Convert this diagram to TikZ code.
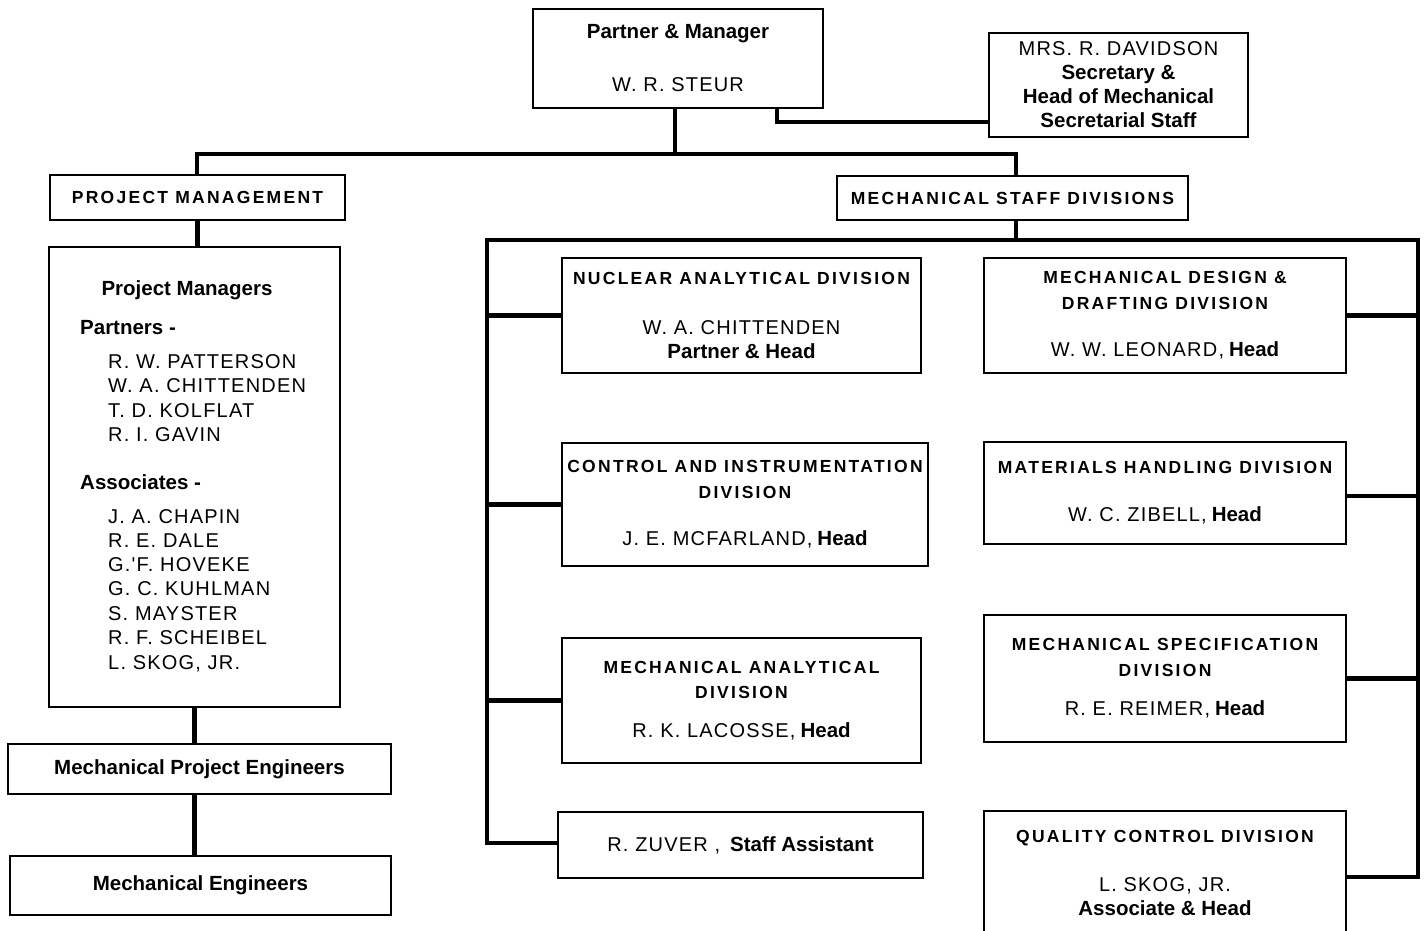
\documentclass[tikz,border=0pt]{standalone}
\usepackage{fontspec}
\setmainfont{Liberation Sans}
\newfontfamily\nmf[LetterSpace=6]{Liberation Sans}
\newfontfamily\hdf[LetterSpace=13]{Liberation Sans}
\newcommand\hd[1]{{\hdf\bfseries\fontsize{17.5}{24}\selectfont #1}}
\newcommand\cb[1]{{\bfseries\fontsize{20.5}{24}\selectfont #1}}
\newcommand\nm[1]{{\nmf\fontsize{20}{24}\selectfont #1}}
\begin{document}
\begin{tikzpicture}[x=1pt,y=-1pt,
  box/.style={draw, line width=1.6pt, inner sep=0pt, align=center, font=\fontsize{18}{24}\selectfont},
  conn/.style={line width=4.5pt, line join=miter},
  lst/.style={inner sep=0pt, anchor=base west},
]
\fill[white] (0,0) rectangle (1426,930);
\useasboundingbox (0,0) rectangle (1426,930);

% top level
\node[box, minimum width=290pt, minimum height=99pt] (top) at (678,58.5)
  {\cb{Partner \& Manager}\\[29pt]\nm{W. R. STEUR}};
\node[box, minimum width=259pt, minimum height=104pt] (sec) at (1118.5,85)
  {\nm{MRS. R. DAVIDSON}\\\cb{Secretary \&}\\\cb{Head of Mechanical}\\\cb{Secretarial Staff}};
\node[box, minimum width=295pt, minimum height=45pt] (pm) at (197.5,197.5)
  {\hd{PROJECT MANAGEMENT}};
\node[box, minimum width=351pt, minimum height=44pt] (msd) at (1012.5,198)
  {\hd{MECHANICAL STAFF DIVISIONS}};

% project management column
\node[box, minimum width=291pt, minimum height=460pt] (pml) at (194.5,477) {};
\node[inner sep=0pt, anchor=base] (pmh) at (187,295.5) {\cb{Project Managers}};
\node[lst] (pth) at (80,334.5) {\cb{Partners -}};
\node[lst] (p1) at (108,368) {\nm{R. W. PATTERSON}};
\node[lst] (p2) at (108,392) {\nm{W. A. CHITTENDEN}};
\node[lst] (p3) at (108,417) {\nm{T. D. KOLFLAT}};
\node[lst] (p4) at (108,441) {\nm{R. I. GAVIN}};
\node[lst] (ash) at (80,489.5) {\cb{Associates -}};
\node[lst] (a1) at (108,523) {\nm{J. A. CHAPIN}};
\node[lst] (a2) at (108,547) {\nm{R. E. DALE}};
\node[lst] (a3) at (108,571) {\nm{G.'F. HOVEKE}};
\node[lst] (a4) at (108,595) {\nm{G. C. KUHLMAN}};
\node[lst] (a5) at (108,620) {\nm{S. MAYSTER}};
\node[lst] (a6) at (108,644) {\nm{R. F. SCHEIBEL}};
\node[lst] (a7) at (108,669) {\nm{L. SKOG, JR.}};

\node[box, minimum width=383pt, minimum height=50pt] (mpe) at (199.5,769)
  {\cb{Mechanical Project Engineers}};
\node[box, minimum width=381pt, minimum height=59pt] (me) at (200.5,885.5)
  {\cb{Mechanical Engineers}};

% left divisions
\node[box, minimum width=359pt, minimum height=115pt] (nuc) at (741.5,315.5)
  {\hd{NUCLEAR ANALYTICAL DIVISION}\\[26pt]\nm{W. A. CHITTENDEN}\\\cb{Partner \& Head}};
\node[box, minimum width=366pt, minimum height=123pt] (ctl) at (745,504.5)
  {\hd{CONTROL AND INSTRUMENTATION}\\[2pt]\hd{DIVISION}\\[23pt]\nm{J. E. MCFARLAND,} \cb{Head}};
\node[box, minimum width=359pt, minimum height=125pt] (man) at (741.5,700.5)
  {\hd{MECHANICAL ANALYTICAL}\\[1pt]\hd{DIVISION}\\[15pt]\nm{R. K. LACOSSE,} \cb{Head}};
\node[box, minimum width=365pt, minimum height=66pt] (zuv) at (740.5,845)
  {\nm{R. ZUVER ,}\ \ \cb{Staff Assistant}};

% right divisions
\node[box, minimum width=362pt, minimum height=115pt] (des) at (1165,315.5)
  {\hd{MECHANICAL DESIGN \&}\\[2pt]\hd{DRAFTING DIVISION}\\[23pt]\nm{W. W. LEONARD,} \cb{Head}};
\node[box, minimum width=362pt, minimum height=102pt] (mat) at (1165,493)
  {\hd{MATERIALS HANDLING DIVISION}\\[24pt]\nm{W. C. ZIBELL,} \cb{Head}};
\node[box, minimum width=362pt, minimum height=127pt] (spc) at (1165,678.5)
  {\hd{MECHANICAL SPECIFICATION}\\[2pt]\hd{DIVISION}\\[15pt]\nm{R. E. REIMER,} \cb{Head}};
\node[box, minimum width=362pt, minimum height=124pt] (qlt) at (1165,873)
  {\hd{QUALITY CONTROL DIVISION}\\[25pt]\nm{L. SKOG, JR.}\\\cb{Associate \& Head}};

% connectors, top
\coordinate (jL) at (197,154);
\coordinate (jR) at (1016,154);
\coordinate (jT) at (675,154);
\coordinate (sk) at (777,122);
\draw[conn] (top.south -| jT) -- (jT);
\draw[conn] (pm.north -| jL) -- (jL) -- (jR) -- (msd.north -| jR);
\draw[conn] (top.south -| sk) -- (sk) -- (sk -| sec.west);

% project management chain
\draw[conn] (pm.south) -- (pm.south |- pml.north);
\draw[conn] (pml.south) -- (pml.south |- mpe.north);
\draw[conn] (pml.south |- mpe.south) -- (pml.south |- me.north);

% staff divisions bus
\coordinate (jB) at (1016,240);
\coordinate (LT) at (487,240);
\coordinate (RT) at (1418,240);
\coordinate (LB) at (487,843);
\coordinate (RB) at (1418,877);
\coordinate (mB) at (1418,496);
\draw[conn] (msd.south -| jB) -- (jB);
\draw[conn] (LB -| zuv.west) -- (LB) -- (LT) -- (RT) -- (RB) -- (RB -| qlt.east);
\draw[conn] (nuc.west -| LT) -- (nuc.west);
\draw[conn] (ctl.west -| LT) -- (ctl.west);
\draw[conn] (man.west -| LT) -- (man.west);
\draw[conn] (des.east) -- (des.east -| RT);
\draw[conn] (mB -| mat.east) -- (mB);
\draw[conn] (spc.east) -- (spc.east -| RT);
\end{tikzpicture}
\end{document}
